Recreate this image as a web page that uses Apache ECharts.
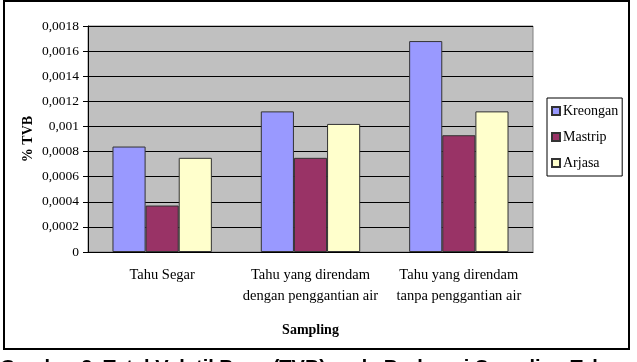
<!DOCTYPE html>
<html lang="en">
<head>
    <meta charset="UTF-8">
    <title>TVB</title>
    <script src="https://cdn.jsdelivr.net/npm/echarts@6.0.0/dist/echarts.min.js"></script>
    <style>
        body { margin: 0; background: #fff; }
    </style>
</head>
<body>
    <div id="main" style="width: 637px;height:362px;"></div>
    <script type="text/javascript">
        // data
        let categories = ['Tahu Segar', 'Tahu yang direndam\ndengan penggantian air', 'Tahu yang direndam\ntanpa penggantian air'];
        let kreongan = [0.00084, 0.00112, 0.00168];
        let mastrip = [0.00037, 0.00075, 0.00093];
        let arjasa = [0.00075, 0.00102, 0.00112];

        let serif = 'Liberation Serif';

        let bar = (name, data, color) => ({
            name: name,
            type: 'bar',
            data: data,
            barGap: '0%',
            barCategoryGap: '33%',
            itemStyle: { color: color, borderColor: '#333', borderWidth: 1 }
        });

        let options = {
            animation: false,
            grid: {
                left: 88, right: 104, top: 26, bottom: 110,
                show: true,
                backgroundColor: '#C0C0C0',
                borderColor: '#808080',
                borderWidth: 1
            },
            legend: {
                orient: 'vertical',
                left: 547, top: 98,
                backgroundColor: '#fff',
                borderColor: '#000',
                borderWidth: 1,
                padding: [6, 4, 6, 4],
                itemWidth: 8, itemHeight: 8,
                itemGap: 12,
                icon: 'rect',
                textStyle: { fontFamily: serif, fontSize: 14, color: '#000', padding: [0, 0, 0, -2] },
                data: ['Kreongan', 'Mastrip', 'Arjasa']
            },
            xAxis: {
                type: 'category',
                data: categories,
                name: 'Sampling',
                nameLocation: 'middle',
                nameGap: 71,
                nameMoveOverlap: false,
                nameTextStyle: { fontFamily: serif, fontSize: 14, fontWeight: 'bold', color: '#000' },
                axisLine: { lineStyle: { color: '#000' } },
                axisTick: { length: 5, lineStyle: { color: '#000' } },
                axisLabel: { interval: 0, hideOverlap: false, fontFamily: serif, fontSize: 14.5, color: '#000', margin: 13, lineHeight: 21 }
            },
            yAxis: {
                type: 'value',
                min: 0, max: 0.0018, interval: 0.0002,
                name: '% TVB',
                nameLocation: 'middle',
                nameGap: 53,
                nameMoveOverlap: false,
                nameTextStyle: { fontFamily: serif, fontSize: 14, fontWeight: 'bold', color: '#000' },
                axisLine: { show: true, lineStyle: { color: '#000' } },
                axisTick: { show: true, length: 5, lineStyle: { color: '#000' } },
                splitLine: { lineStyle: { color: '#000', width: 1 } },
                axisLabel: {
                    fontFamily: serif, fontSize: 13.5, color: '#000', margin: 9,
                    formatter: (v) => parseFloat(v.toFixed(4)).toString().replace('.', ',')
                }
            },
            graphic: [
                {
                    type: 'rect',
                    shape: { x: 4, y: 1, width: 625, height: 348 },
                    style: { fill: 'none', stroke: '#000', lineWidth: 2 }
                },
                {
                    type: 'text',
                    left: 0, top: 358,
                    style: {
                        text: 'Gambar 3. Total Volatil Base (TVB) pada Berbagai Sampling Tahu',
                        font: 'bold 20px Liberation Sans',
                        fill: '#000'
                    }
                }
            ],
            series: [
                bar('Kreongan', kreongan, '#9999FF'),
                bar('Mastrip', mastrip, '#993366'),
                bar('Arjasa', arjasa, '#FFFFCC')
            ]
        };

        let myChart = echarts.init(document.getElementById('main'));
        myChart.setOption(options);
    </script>
</body>
</html>
